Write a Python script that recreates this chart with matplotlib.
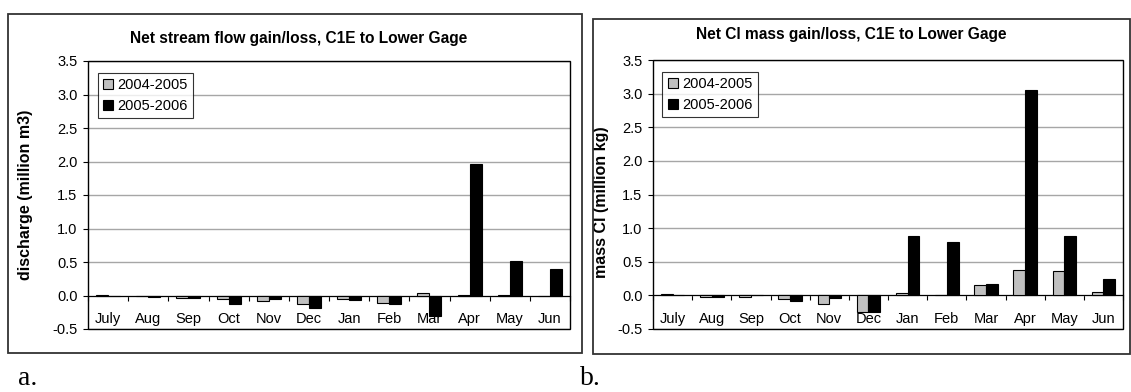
import numpy as np
import matplotlib
matplotlib.use("Agg")
import matplotlib.pyplot as plt
from matplotlib.patches import Rectangle

plt.rcParams["font.family"] = ["Liberation Sans", "DejaVu Sans"]

months = ["July", "Aug", "Sep", "Oct", "Nov", "Dec",
          "Jan", "Feb", "Mar", "Apr", "May", "Jun"]
series_names = ["2004-2005", "2005-2006"]

# net stream flow gain/loss (million m3)
flow_0405 = [0.01, -0.01, -0.03, -0.05, -0.08, -0.13, -0.05, -0.11, 0.03, 0.01, 0.01, 0.0]
flow_0506 = [-0.01, -0.02, -0.03, -0.12, -0.05, -0.19, -0.07, -0.13, -0.31, 1.97, 0.51, 0.40]

# net Cl mass gain/loss (million kg)
cl_0405 = [0.02, -0.02, -0.03, -0.055, -0.13, -0.24, 0.035, 0.0, 0.15, 0.37, 0.36, 0.05]
cl_0506 = [0.005, -0.02, 0.0, -0.09, -0.045, -0.24, 0.89, 0.80, 0.17, 3.06, 0.89, 0.24]

yticks = [-0.5, 0.0, 0.5, 1.0, 1.5, 2.0, 2.5, 3.0, 3.5]

W, H = 1131, 392
fig = plt.figure(figsize=(W / 100, H / 100), dpi=100)


def fx(px):
    return px / W


def fy(px):
    return 1 - px / H


def chart(rect, v1, v2, title, title_xy, ylabel, ylabel_xy):
    ax = fig.add_axes(rect)
    x = np.arange(len(months))
    w = 0.3
    ax.bar(x - w / 2, v1, w, color="#c0c0c0", edgecolor="black", linewidth=0.8,
           label=series_names[0], zorder=3)
    ax.bar(x + w / 2, v2, w, color="black", edgecolor="black", linewidth=0.8,
           label=series_names[1], zorder=3)
    ax.set_xlim(-0.5, len(months) - 0.5)
    ax.set_ylim(-0.5, 3.5)
    ax.set_yticks(yticks)
    ax.set_yticklabels([f"{t:.1f}" for t in yticks], fontsize=10.5)
    ax.tick_params(axis="y", direction="out", length=3.5, width=0.8, pad=4)
    ax.grid(axis="y", color="#a6a6a6", linewidth=1, zorder=0)

    # category axis runs along zero, ticks between categories
    ax.spines["bottom"].set_position(("data", 0))
    ax.spines["bottom"].set_linewidth(0.8)
    ax.set_xticks(np.arange(len(months) + 1) - 0.5)
    ax.set_xticklabels([])
    ax.tick_params(axis="x", which="major", direction="out", length=3.5, width=0.8)
    ax.set_xticks(x, minor=True)
    ax.set_xticklabels(months, minor=True, fontsize=10.5)
    ax.tick_params(axis="x", which="minor", length=0, pad=12)
    for s in ("top", "right", "left"):
        ax.spines[s].set_visible(False)
    ax.add_patch(Rectangle((0, 0), 1, 1, transform=ax.transAxes, fill=False,
                           edgecolor="black", linewidth=1.0, clip_on=False, zorder=5))

    ax.set_ylabel(ylabel, fontsize=11.5, fontweight="bold")
    ax.yaxis.set_label_coords(*ylabel_xy)

    leg = ax.legend(loc="upper left", bbox_to_anchor=(0.02, 0.955), borderaxespad=0,
                    fontsize=10.5, frameon=True, fancybox=False, edgecolor="black",
                    handlelength=0.7, handleheight=0.7, handletextpad=0.3,
                    borderpad=0.35, labelspacing=0.45)
    leg.get_frame().set_linewidth(0.8)
    leg.set_zorder(6)

    fig.text(title_xy[0], title_xy[1], title, ha="center", va="center",
             fontsize=11.2, fontweight="bold")
    return ax


chart([fx(88), fy(329), fx(570 - 88), fy(61) - fy(329)], flow_0405, flow_0506,
      "Net stream flow gain/loss, C1E to Lower Gage", (fx(299), fy(38)),
      "discharge (million m3)", (-0.114, 0.5))
chart([fx(653), fy(329), fx(1123 - 653), fy(60) - fy(329)], cl_0405, cl_0506,
      "Net Cl mass gain/loss, C1E to Lower Gage", (fx(851), fy(34)),
      "mass Cl (million kg)", (-0.094, 0.47))

# chart area borders
for (x0, y0, x1, y1) in [(8, 14, 582, 353), (593, 19, 1130, 354)]:
    fig.patches.append(Rectangle((fx(x0), fy(y1)), fx(x1 - x0), fy(y0) - fy(y1),
                                 transform=fig.transFigure, fill=False,
                                 edgecolor="#333333", linewidth=1.3))

fig.text(fx(18), fy(385), "a.", fontsize=20, family=["Liberation Serif"], va="baseline")
fig.text(fx(580), fy(385), "b.", fontsize=20, family=["Liberation Serif"], va="baseline")

fig.savefig("out.png", dpi=100)
